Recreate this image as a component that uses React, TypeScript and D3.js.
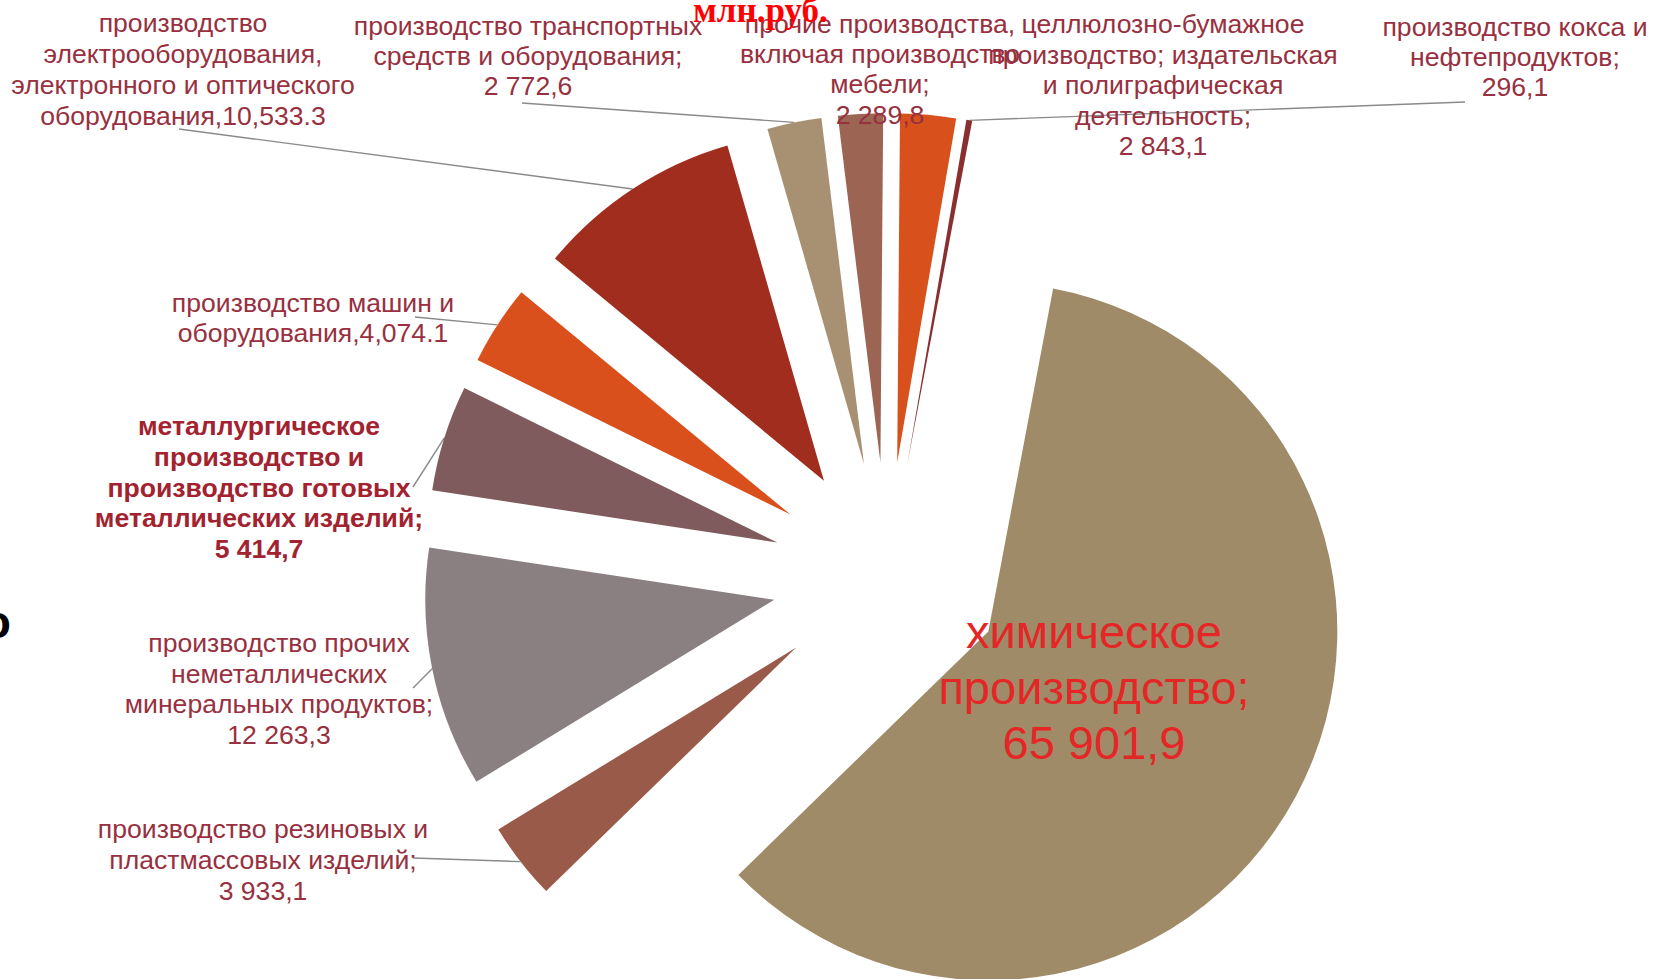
import React from "react";
import * as d3 from "d3";

// ---------- data ----------
const CATEGORIES: string[] = [
  "химическое производство",
  "производство резиновых и пластмассовых изделий",
  "производство прочих неметаллических минеральных продуктов",
  "металлургическое производство и производство готовых металлических изделий",
  "производство машин и оборудования",
  "производство электрооборудования, электронного и оптического оборудования",
  "производство транспортных средств и оборудования",
  "прочие производства, включая производство мебели",
  "целлюлозно-бумажное производство; издательская и полиграфическая деятельность",
  "производство кокса и нефтепродуктов",
];
const VALUES: number[] = [65901.9, 3933.1, 12263.3, 5414.7, 4074.1, 10533.3, 2772.6, 2289.8, 2843.1, 296.1];
const COLORS: string[] = [
  "#A08B69", "#9A5A49", "#8B8081", "#7F5B5D", "#D9501D",
  "#A12D1F", "#A89173", "#9B6453", "#D8511C", "#8A2F2F",
];
const LABEL_LINES: string[][] = [
  ["химическое", "производство;", "65 901,9"],
  ["производство резиновых и", "пластмассовых изделий;", "3 933,1"],
  ["производство прочих", "неметаллических", "минеральных продуктов;", "12 263,3"],
  ["металлургическое", "производство и", "производство готовых", "металлических изделий;", "5 414,7"],
  ["производство машин и", "оборудования,4,074.1"],
  ["производство", "электрооборудования,", "электронного и оптического", "оборудования,10,533.3"],
  ["производство транспортных", "средств и оборудования;", "2 772,6"],
  ["прочие производства,", "включая производство", "мебели;", "2 289,8"],
  ["целлюлозно-бумажное", "производство; издательская", "и полиграфическая", "деятельность;", "2 843,1"],
  ["производство кокса и", "нефтепродуктов;", "296,1"],
];
const UNIT_TITLE = "млн.руб.";

// ---------- layout ----------
const W = 1653;
const H = 979;
const CX = 887;
const CY = 577;
const RADIUS = 349;
const EXPLODE = 115;
const START_DEG = 10.7;

type LabelLayout = {
  x: number; y: number; lh: number; size?: number; bold?: boolean; color?: string;
  leader?: [number, number];
};
const LABEL_LAYOUT: LabelLayout[] = [
  { x: 1094, y: 648, lh: 55.5, size: 47, color: "#E42626" },
  { x: 263, y: 838, lh: 31, leader: [413, 858] },
  { x: 279, y: 652, lh: 30.5, leader: [413, 688] },
  { x: 259, y: 435, lh: 30.8, bold: true, color: "#A3222F", leader: [413, 487] },
  { x: 313, y: 312, lh: 30, leader: [415, 317] },
  { x: 183, y: 32, lh: 31, leader: [179, 129] },
  { x: 528, y: 35, lh: 30, leader: [522, 103] },
  { x: 880, y: 33, lh: 30.2 },
  { x: 1163, y: 33, lh: 30.6 },
  { x: 1515, y: 36, lh: 30, leader: [1465, 102] },
];
const TEXT_COLOR = "#983040";
const FONT = "'Liberation Sans', Arial, sans-serif";

export default function App() {
  const start = (START_DEG * Math.PI) / 180;
  const pie = d3
    .pie<number>()
    .sort(null)
    .value((d) => d)
    .startAngle(start)
    .endAngle(start + 2 * Math.PI);
  const arcs = pie(VALUES);
  const arcGen = d3.arc<d3.PieArcDatum<number>>().innerRadius(0).outerRadius(RADIUS);

  return (
    <svg
      width={W}
      height={H}
      style={{ position: "absolute", left: 0, top: 0, display: "block", background: "#fff" }}
    >
      <rect x={0} y={0} width={W} height={H} fill="#fff" />
      {/* leaders */}
      {arcs.map((a, i) => {
        const lay = LABEL_LAYOUT[i];
        if (!lay.leader) return null;
        const mid = (a.startAngle + a.endAngle) / 2;
        const ex = CX + (EXPLODE + RADIUS) * Math.sin(mid);
        const ey = CY - (EXPLODE + RADIUS) * Math.cos(mid);
        return (
          <line
            key={"l" + i}
            x1={lay.leader[0]}
            y1={lay.leader[1]}
            x2={ex}
            y2={ey}
            stroke="#8a8a8a"
            strokeWidth={1.4}
          />
        );
      })}
      {/* slices */}
      {arcs.map((a, i) => {
        const mid = (a.startAngle + a.endAngle) / 2;
        const tx = CX + EXPLODE * Math.sin(mid);
        const ty = CY - EXPLODE * Math.cos(mid);
        return (
          <path
            key={CATEGORIES[i]}
            d={arcGen(a) || ""}
            transform={`translate(${tx},${ty})`}
            fill={COLORS[i]}
          />
        );
      })}
      {/* labels */}
      {LABEL_LINES.map((lines, i) => {
        const lay = LABEL_LAYOUT[i];
        return (
          <text
            key={"t" + i}
            x={lay.x}
            y={lay.y}
            textAnchor="middle"
            fontFamily={FONT}
            fontSize={lay.size || 26.6}
            fontWeight={lay.bold ? "bold" : "normal"}
            fill={lay.color || TEXT_COLOR}
          >
            {lines.map((ln, j) => (
              <tspan key={j} x={lay.x} y={lay.y + j * lay.lh}>
                {ln}
              </tspan>
            ))}
          </text>
        );
      })}
      {/* unit title */}
      <text
        x={693}
        y={22}
        fontFamily="'Liberation Serif', 'Times New Roman', serif"
        fontSize={35}
        fontWeight="bold"
        fill="#FF0000"
      >
        {UNIT_TITLE}
      </text>
      {/* stray glyph cut at left edge */}
      <text
        x={11}
        y={638}
        textAnchor="end"
        fontFamily={FONT}
        fontSize={47}
        fontWeight="bold"
        fill="#000"
      >
        о
      </text>
    </svg>
  );
}
